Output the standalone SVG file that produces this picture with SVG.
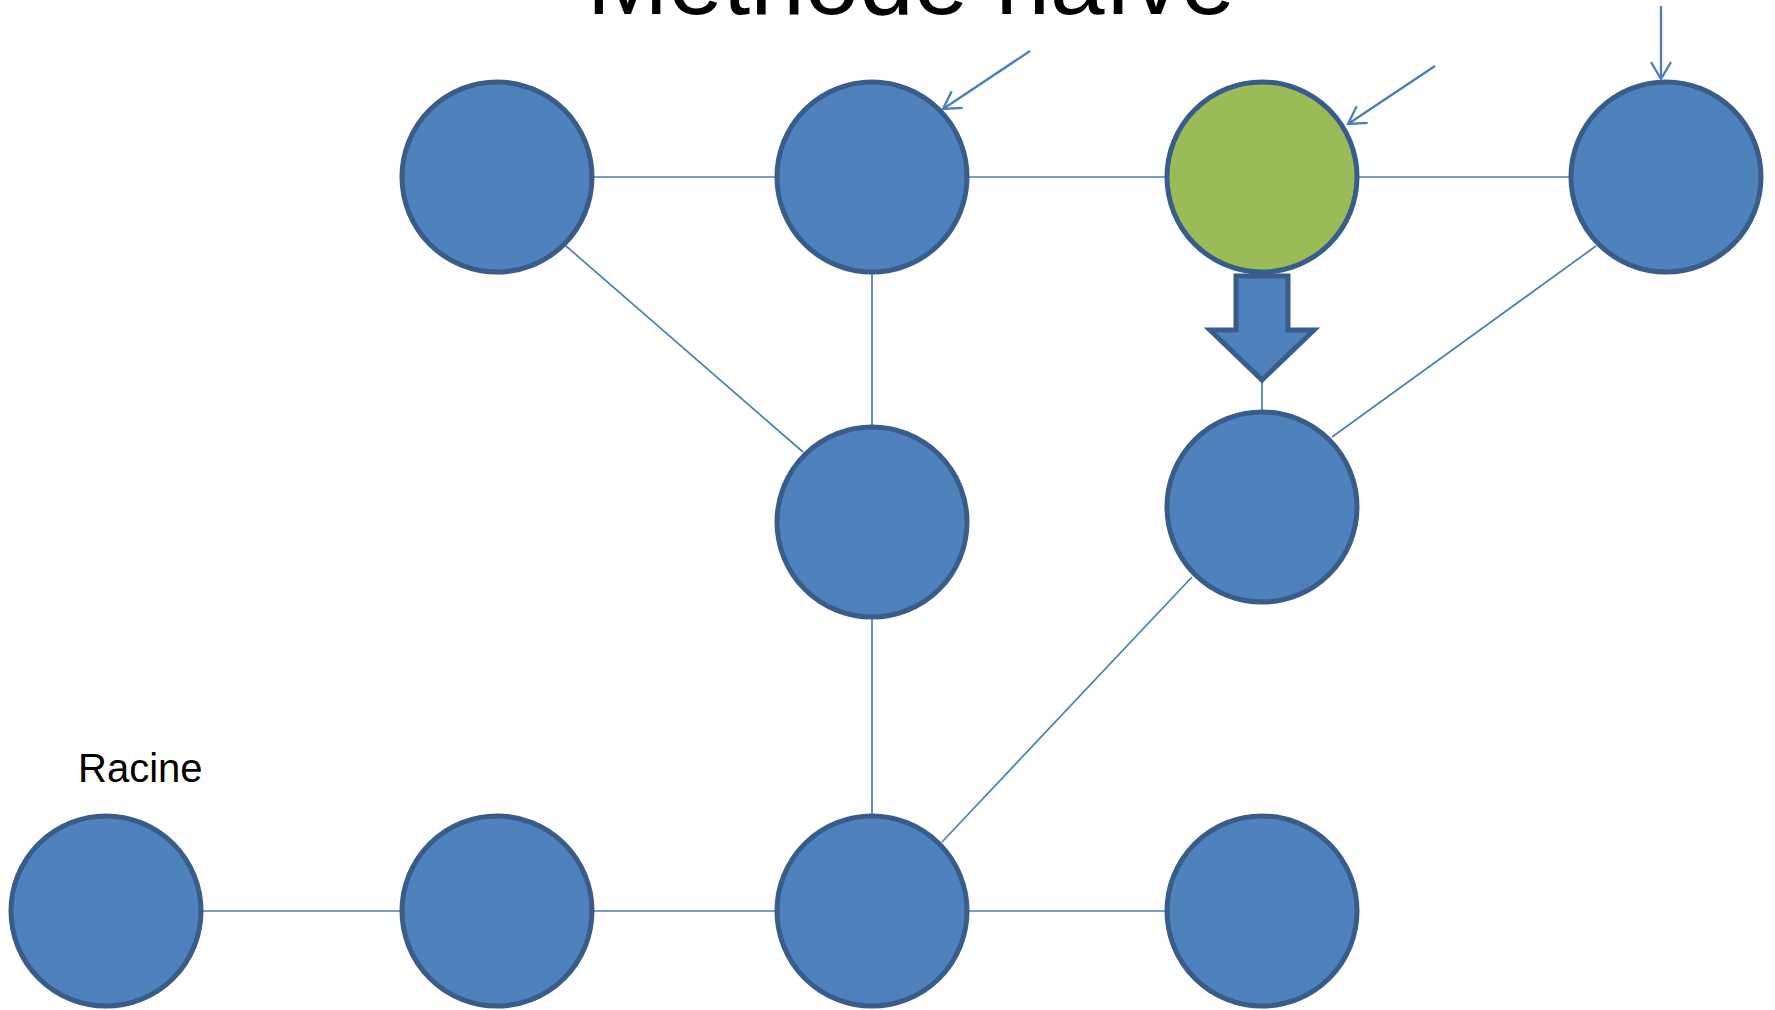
<svg xmlns="http://www.w3.org/2000/svg" width="1775" height="1010" viewBox="0 0 1775 1010">
<style>
.edge{stroke:#4a7ebb;stroke-width:1.7;fill:none}
.ptr{stroke:#4a7ebb;stroke-width:2.3;fill:none}
.node{fill:#4f81bd;stroke:#385d8a;stroke-width:5}
.sel{fill:#9bbb59;stroke:#385d8a;stroke-width:5}
.lbl{font-family:"Liberation Sans",Arial,sans-serif;fill:#000}
</style>
<defs>
<marker id="open" markerUnits="userSpaceOnUse" viewBox="-20 -12 24 24" markerWidth="24" markerHeight="24" refX="0" refY="0" orient="auto" overflow="visible">
<path d="M-17,-10 L0,0 L-17,10" fill="none" stroke="#4a7ebb" stroke-width="2.3"/>
</marker>
</defs>
<rect width="1775" height="1010" fill="#fff"/>
<text class="lbl" x="911" y="14" font-size="98" text-anchor="middle">Méthode naïve</text>
<g id="connectors">
<line class="edge" x1="497" y1="177" x2="872" y2="177"/>
<line class="edge" x1="872" y1="177" x2="1262" y2="177"/>
<line class="edge" x1="1262" y1="177" x2="1666" y2="177"/>
<line class="edge" x1="566" y1="246" x2="803" y2="452"/>
<line class="edge" x1="872" y1="177" x2="872" y2="522"/>
<line class="edge" x1="1596" y1="246" x2="1332" y2="437"/>
<line class="edge" x1="1262" y1="177" x2="1262" y2="507"/>
<line class="edge" x1="872" y1="522" x2="872" y2="911"/>
<line class="edge" x1="1192" y1="577" x2="942" y2="842"/>
<line class="edge" x1="106" y1="911" x2="497" y2="911"/>
<line class="edge" x1="497" y1="911" x2="872" y2="911"/>
<line class="edge" x1="872" y1="911" x2="1262" y2="911"/>
</g>
<g id="n-tl"><circle class="node" cx="497" cy="177" r="95"/></g>
<g id="n-t2"><circle class="node" cx="872" cy="177" r="95"/></g>
<g id="n-green"><circle class="sel" cx="1262" cy="177" r="95"/></g>
<g id="n-tr"><circle class="node" cx="1666" cy="177" r="95"/></g>
<g id="n-m1"><circle class="node" cx="872" cy="522" r="95"/></g>
<g id="n-m2"><circle class="node" cx="1262" cy="507" r="95"/></g>
<g id="n-b1"><circle class="node" cx="106" cy="911" r="95"/></g>
<g id="n-b2"><circle class="node" cx="497" cy="911" r="95"/></g>
<g id="n-b3"><circle class="node" cx="872" cy="911" r="95"/></g>
<g id="n-b4"><circle class="node" cx="1262" cy="911" r="95"/></g>
<g id="block-arrow">
<polygon points="1236,276 1288,276 1288,330 1314,330 1262,380 1210,330 1236,330" fill="#4f81bd" stroke="#385d8a" stroke-width="5"/>
</g>
<g id="pointers">
<line class="ptr" x1="1030" y1="51" x2="943" y2="109" marker-end="url(#open)"/>
<line class="ptr" x1="1435" y1="66" x2="1348" y2="124" marker-end="url(#open)"/>
<line class="ptr" x1="1661" y1="6" x2="1661" y2="79" marker-end="url(#open)"/>
</g>
<g id="label-racine"><text class="lbl" x="78" y="782" font-size="40">Racine</text></g>
</svg>
